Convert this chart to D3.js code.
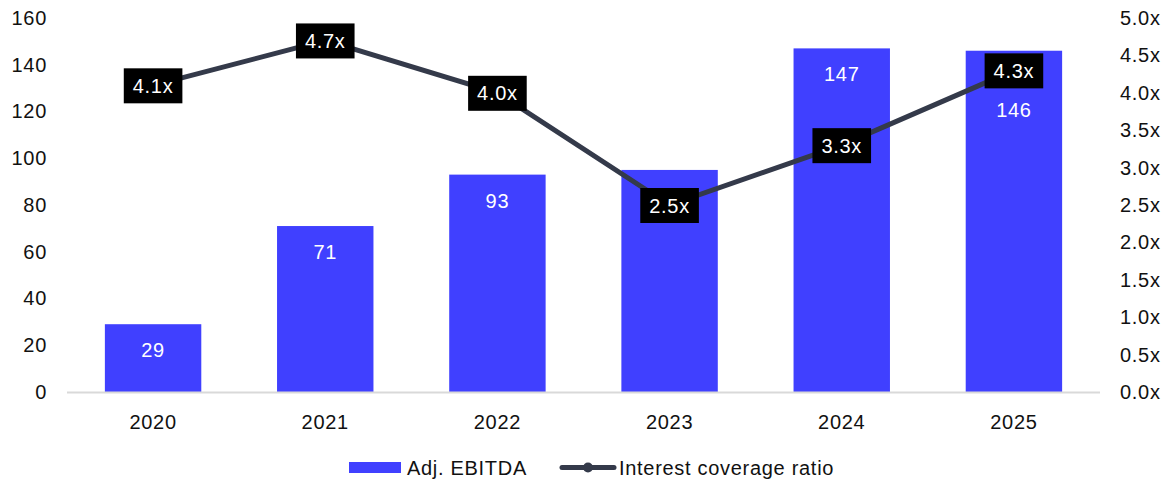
<!DOCTYPE html>
<html>
<head>
<meta charset="utf-8">
<script src="https://cdn.jsdelivr.net/npm/d3@7"></script>
<style>
  html, body { margin: 0; padding: 0; background: #fff; }
  svg text { font-family: "Liberation Sans", Arial, sans-serif; letter-spacing: 0.7px; }
</style>
</head>
<body>
<svg id="chart" width="1168" height="484"></svg>
<script>
// Annual figures
const years = ["2020", "2021", "2022", "2023", "2024", "2025"];
const ebitda = [29, 71, 93, 95, 147, 146];
const coverage = [4.1, 4.7, 4.0, 2.5, 3.3, 4.3];
const leftTicks = [0, 20, 40, 60, 80, 100, 120, 140, 160];
const rightTicks = [0, 0.5, 1, 1.5, 2, 2.5, 3, 3.5, 4, 4.5, 5];
const seriesNames = ["Adj. EBITDA", "Interest coverage ratio"];
// Bar values that sit entirely under a coverage label are not printed
const coveredValueYears = ["2023"];

const barColor = "#4040ff";
const lineColor = "#343a4a";
const textColor = "#111";
const fontSize = 20;

const svg = d3.select("#chart");
const plotTop = 18, plotBottom = 392, plotLeft = 67, plotRight = 1100;

const x = d3.scaleBand().domain(years).range([plotLeft, plotRight])
  .paddingInner(0.44).paddingOuter(0.22);
const yL = d3.scaleLinear().domain([0, 160]).range([plotBottom, plotTop]);
const yR = d3.scaleLinear().domain([0, 5]).range([plotBottom, plotTop]);

function styleAxis(g) {
  g.select(".domain").remove();
  g.selectAll("text").attr("font-size", fontSize).attr("fill", textColor)
    .attr("font-family", "Liberation Sans, Arial, sans-serif");
}

// Left axis
svg.append("g").attr("transform", `translate(${plotLeft - 20},0)`)
  .call(d3.axisLeft(yL).tickValues(leftTicks).tickSize(0).tickPadding(0))
  .call(styleAxis);

// Right axis
svg.append("g").attr("transform", `translate(${plotRight + 20},0)`)
  .call(d3.axisRight(yR).tickValues(rightTicks).tickSize(0).tickPadding(0)
    .tickFormat(d => d.toFixed(1) + "x"))
  .call(styleAxis);

// Bars
svg.append("g").selectAll("rect").data(years).join("rect")
  .attr("x", d => x(d))
  .attr("y", (d, i) => yL(ebitda[i]))
  .attr("width", x.bandwidth())
  .attr("height", (d, i) => plotBottom - yL(ebitda[i]))
  .attr("fill", barColor);

// Baseline
svg.append("line")
  .attr("x1", plotLeft).attr("x2", plotRight)
  .attr("y1", plotBottom + 0.5).attr("y2", plotBottom + 0.5)
  .attr("stroke", "#d9d9d9").attr("stroke-width", 2);

// X axis labels
svg.append("g").attr("transform", `translate(0,${plotBottom + 23})`)
  .call(d3.axisBottom(x).tickSize(0).tickPadding(0))
  .call(styleAxis);

// Coverage line
const pts = years.map((d, i) => [x(d) + x.bandwidth() / 2, yR(coverage[i])]);
svg.append("path")
  .attr("d", d3.line()(pts))
  .attr("fill", "none")
  .attr("stroke", lineColor)
  .attr("stroke-width", 5);

svg.append("g").selectAll("circle").data(pts).join("circle")
  .attr("cx", d => d[0]).attr("cy", d => d[1]).attr("r", 5)
  .attr("fill", lineColor);

// Coverage labels: black boxes sized to their text
const boxH = 35, boxPad = 9;
const lab = svg.append("g").selectAll("g").data(years).join("g")
  .attr("transform", (d, i) => `translate(${pts[i][0]},${pts[i][1]})`);
const labText = lab.append("text")
  .attr("text-anchor", "middle").attr("y", 7.5)
  .attr("font-size", fontSize).attr("fill", "#fff")
  .text((d, i) => coverage[i].toFixed(1) + "x");
const boxes = [];
labText.each(function (d, i) {
  const w = this.getComputedTextLength() + 2 * boxPad;
  boxes[i] = { x0: pts[i][0] - w / 2, x1: pts[i][0] + w / 2,
               y0: pts[i][1] - boxH / 2, y1: pts[i][1] + boxH / 2 };
  d3.select(this.parentNode).insert("rect", "text")
    .attr("x", -w / 2).attr("y", -boxH / 2 + 0.5)
    .attr("width", w).attr("height", boxH)
    .attr("fill", "#000");
});

// Bar values, placed near the bar top or just below a coverage label in the way
const valueGroup = svg.insert("g", "path");
years.forEach((d, i) => {
  if (coveredValueYears.includes(d)) return;
  const cx = x(d) + x.bandwidth() / 2;
  let cy = yL(ebitda[i]) + 26;
  const b = boxes[i];
  if (cy + 10 > b.y0 && cy - 10 < b.y1) cy = b.y1 + 22;
  valueGroup.append("text")
    .attr("x", cx).attr("y", cy + 7)
    .attr("text-anchor", "middle")
    .attr("font-size", fontSize)
    .attr("fill", "#fff")
    .text(ebitda[i]);
});

// Legend
const lg = svg.append("g");
lg.append("rect").attr("x", 349).attr("y", 462).attr("width", 52).attr("height", 11)
  .attr("fill", barColor);
lg.append("text").attr("x", 407).attr("y", 475).attr("font-size", fontSize).attr("fill", textColor)
  .text(seriesNames[0]);
lg.append("line").attr("x1", 562).attr("x2", 614).attr("y1", 467.5).attr("y2", 467.5)
  .attr("stroke", lineColor).attr("stroke-width", 5).attr("stroke-linecap", "round");
lg.append("circle").attr("cx", 588).attr("cy", 467.5).attr("r", 5).attr("fill", lineColor);
lg.append("text").attr("x", 619).attr("y", 475).attr("font-size", fontSize).attr("fill", textColor)
  .text(seriesNames[1]);
</script>
</body>
</html>
